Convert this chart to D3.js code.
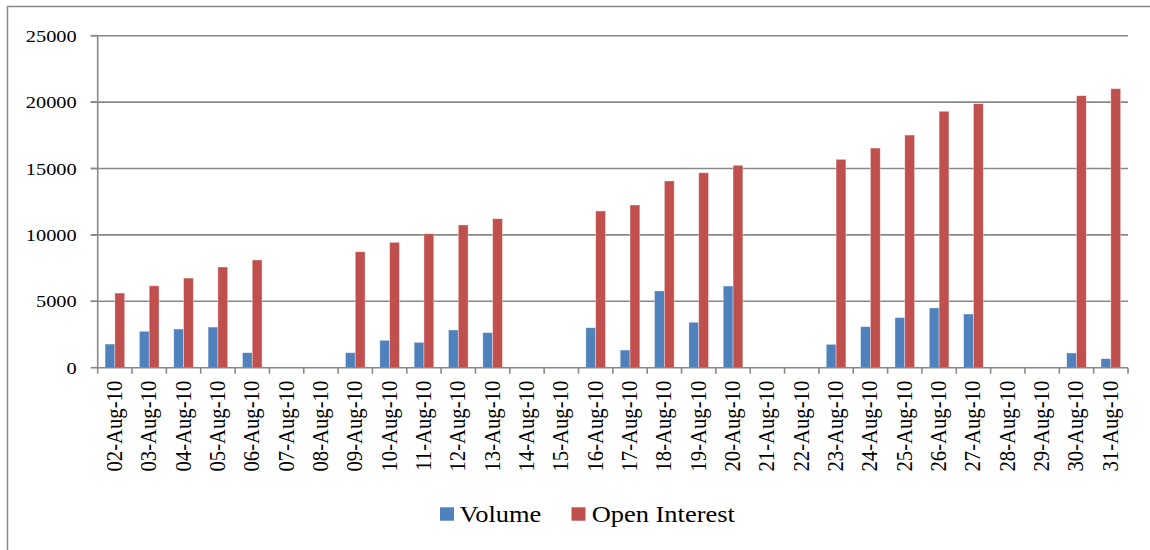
<!DOCTYPE html>
<html>
<head>
<meta charset="utf-8">
<script src="https://cdn.jsdelivr.net/npm/d3@7/dist/d3.min.js"></script>
<style>
  html, body { margin: 0; padding: 0; background: #fff; }
  svg { display: block; }
</style>
</head>
<body>
<svg id="chart" width="1150" height="550"></svg>
<script>
const categories = ["02-Aug-10","03-Aug-10","04-Aug-10","05-Aug-10","06-Aug-10","07-Aug-10","08-Aug-10",
  "09-Aug-10","10-Aug-10","11-Aug-10","12-Aug-10","13-Aug-10","14-Aug-10","15-Aug-10",
  "16-Aug-10","17-Aug-10","18-Aug-10","19-Aug-10","20-Aug-10","21-Aug-10","22-Aug-10",
  "23-Aug-10","24-Aug-10","25-Aug-10","26-Aug-10","27-Aug-10","28-Aug-10","29-Aug-10",
  "30-Aug-10","31-Aug-10"];
const seriesNames = ["Volume", "Open Interest"];
const volume = [1780, 2740, 2910, 3060, 1130, 0, 0, 1130, 2060, 1910, 2840, 2640, 0, 0,
  3010, 1330, 5780, 3420, 6150, 0, 0, 1760, 3090, 3770, 4500, 4040, 0, 0, 1110, 680];
const openInterest = [5620, 6170, 6750, 7580, 8110, 0, 0, 8730, 9440, 10090, 10750, 11220, 0, 0,
  11800, 12250, 14060, 14680, 15240, 0, 0, 15690, 16540, 17520, 19310, 19880, 0, 0, 20480, 21010];
const yTicks = [0, 5000, 10000, 15000, 20000, 25000];
const colors = ["#4F81BD", "#C0504D"];

const FONT = "'Liberation Serif', 'Times New Roman', serif";
const svg = d3.select("#chart");
const SX = 1.15; // horizontal text stretch seen in reference
const gridColor = "#888888";

// outer frame (top and left visible)
svg.append("line").attr("x1", 7).attr("x2", 1150).attr("y1", 6.5).attr("y2", 6.5)
  .attr("stroke", gridColor).attr("stroke-width", 1.5);
svg.append("line").attr("x1", 7.5).attr("x2", 7.5).attr("y1", 6).attr("y2", 550)
  .attr("stroke", gridColor).attr("stroke-width", 1.5);

const x0 = 97.7, x1r = 1128, yTop = 35.7, yBot = 367.7;
const x = d3.scaleBand().domain(categories).range([x0, x1r]).paddingInner(0).paddingOuter(0);
const xs = d3.scaleBand().domain(seriesNames).range([0, x.bandwidth()]).paddingInner(0).paddingOuter(0.75);
const y = d3.scaleLinear().domain([0, 25000]).range([yBot, yTop]);

// gridlines
svg.append("g").selectAll("line").data(yTicks.filter(d => d > 0)).join("line")
  .attr("x1", x0 - 7).attr("x2", x1r)
  .attr("y1", d => y(d)).attr("y2", d => y(d))
  .attr("stroke", gridColor).attr("stroke-width", 1.6);

// bars
const data = [volume, openInterest];
const gBars = svg.append("g");
seriesNames.forEach((s, si) => {
  gBars.append("g").selectAll("rect").data(categories.map((c, i) => ({c, v: data[si][i]})).filter(d => d.v > 0))
    .join("rect")
    .attr("x", d => x(d.c) + xs(s))
    .attr("y", d => y(d.v))
    .attr("width", xs.bandwidth())
    .attr("height", d => y(0) - y(d.v))
    .attr("fill", colors[si])
    .attr("stroke", "rgba(255,255,255,0.45)")
    .attr("stroke-width", 0.8);
});

// y axis line and ticks
svg.append("line").attr("x1", x0).attr("x2", x0).attr("y1", yTop).attr("y2", yBot)
  .attr("stroke", gridColor).attr("stroke-width", 1.6);
svg.append("g").selectAll("line").data(yTicks).join("line")
  .attr("x1", x0 - 7).attr("x2", x0)
  .attr("y1", d => y(d)).attr("y2", d => y(d))
  .attr("stroke", gridColor).attr("stroke-width", 1.6);
svg.append("g").selectAll("text").data(yTicks).join("text")
  .attr("transform", d => `translate(${x0 - 21},${y(d) + 6}) scale(${SX},1)`)
  .attr("text-anchor", "end")
  .style("font-family", FONT)
  .style("font-size", "17.7px")
  .attr("fill", "#000")
  .text(d => d);

// x axis line and ticks
svg.append("line").attr("x1", x0).attr("x2", x1r).attr("y1", yBot).attr("y2", yBot)
  .attr("stroke", gridColor).attr("stroke-width", 1.6);
const edges = categories.map(c => x(c)).concat([x1r]);
svg.append("g").selectAll("line").data(edges).join("line")
  .attr("x1", d => d).attr("x2", d => d)
  .attr("y1", yBot).attr("y2", yBot + 6)
  .attr("stroke", gridColor).attr("stroke-width", 1.6);
svg.append("g").selectAll("text").data(categories).join("text")
  .attr("transform", d => `translate(${x(d) + x.bandwidth() / 2 + 7},${yBot + 13}) scale(${SX},1) rotate(-90)`)
  .attr("text-anchor", "end")
  .style("font-family", FONT)
  .style("font-size", "20.7px")
  .attr("fill", "#000")
  .text(d => d);

// legend
const legend = svg.append("g");
const legendItems = [{name: seriesNames[0], sx: 440, tx: 459.5}, {name: seriesNames[1], sx: 571.5, tx: 591.7}];
legendItems.forEach((it, i) => {
  legend.append("rect").attr("x", it.sx).attr("y", 507.3).attr("width", 14).attr("height", 13.4)
    .attr("fill", colors[i]);
  legend.append("text")
    .attr("transform", `translate(${it.tx},522) scale(${SX},1)`)
    .style("font-family", FONT)
    .style("font-size", "23px")
    .attr("fill", "#000")
    .text(it.name);
});
</script>
</body>
</html>
